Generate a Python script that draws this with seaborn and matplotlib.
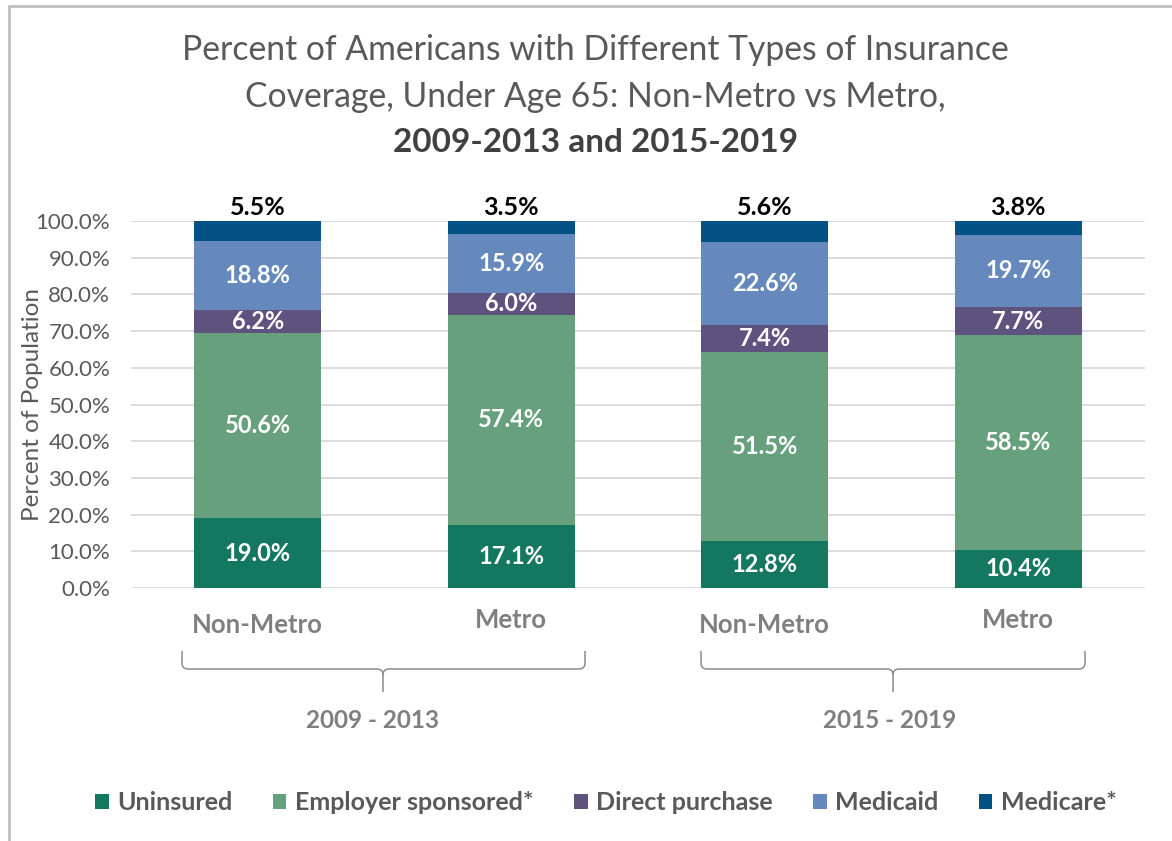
import numpy as np
import pandas as pd
import matplotlib
matplotlib.use('Agg')
import matplotlib.pyplot as plt
from matplotlib.patches import Patch, PathPatch
from matplotlib.path import Path
from matplotlib.lines import Line2D
import seaborn as sns

# data
bar_ids = ['NM 2009-2013', 'M 2009-2013', 'NM 2015-2019', 'M 2015-2019']
area_labels = ['Non-Metro', 'Metro', 'Non-Metro', 'Metro']
period_labels = ['2009 - 2013', '2015 - 2019']
series = ['Uninsured', 'Employer sponsored*', 'Direct purchase', 'Medicaid', 'Medicare*']
uninsured = [19.0, 17.1, 12.8, 10.4]
employer = [50.6, 57.4, 51.5, 58.5]
direct = [6.2, 6.0, 7.4, 7.7]
medicaid = [18.8, 15.9, 22.6, 19.7]
medicare = [5.5, 3.5, 5.6, 3.8]
colors = ['#14775F', '#67A07D', '#5E527F', '#6589BD', '#035286']

sns.set_style('white')
plt.rcParams['font.family'] = ['Lato', 'DejaVu Sans']

values = np.array([uninsured, employer, direct, medicaid, medicare])
cum = values.cumsum(axis=0)
df = pd.DataFrame({'bar': bar_ids})

fig = plt.figure(figsize=(11.72, 8.41), dpi=100)
ax = fig.add_axes([131 / 1172, 1 - 588 / 841, 1014 / 1172, 367 / 841])

# stacked bars: draw the cumulative totals top layer first
for k in range(len(series) - 1, -1, -1):
    df['top'] = cum[k]
    sns.barplot(data=df, x='bar', y='top', color=colors[k], width=0.5,
                saturation=1, linewidth=0, ax=ax, zorder=3)

ax.set_ylim(0, 100)
ax.set_xlim(-0.5, 3.5)
ax.set_yticks(np.arange(0, 101, 10))
ax.set_yticklabels(['%.1f%%' % v for v in np.arange(0, 101, 10)],
                   fontsize=16, color='#595959')
ax.tick_params(axis='y', length=0, pad=15)
ax.set_xticks([])
ax.set_xlabel('')
ax.set_ylabel('Percent of Population', fontsize=17.5, color='#595959')
ax.yaxis.set_label_coords(-0.087, 0.5)
ax.grid(axis='y', color='#d9d9d9', linewidth=1.3, zorder=0)
for s in ax.spines.values():
    s.set_visible(False)

# segment labels
for i in range(4):
    for k in range(4):
        mid = cum[k, i] - values[k, i] / 2
        ax.text(i, mid, '%.1f%%' % values[k, i], ha='center', va='center',
                color='white', fontsize=17, fontweight='bold', zorder=5)
    ax.text(i, 100.6, '%.1f%%' % medicare[i], ha='center', va='bottom',
            color='black', fontsize=18, fontweight='bold', clip_on=False)

# category labels (Excel multi-level axis)
trans = ax.get_xaxis_transform()
for i, lab in enumerate(area_labels):
    yoff = -0.10 if lab == 'Non-Metro' else -0.088
    ax.text(i, yoff, lab, transform=trans, ha='center', va='center',
            fontsize=18.5, fontweight='bold', color='#7f7f7f', clip_on=False)

# group braces in figure pixels
def px(x, y):
    return (x / 1172, 1 - y / 841)

def brace(x0, x1, xc, y_top=651, y_mid=669, y_bot=692):
    r = 6
    verts = [px(x0, y_top), px(x0, y_mid - r), px(x0, y_mid), px(x0 + r, y_mid),
             px(xc - r, y_mid), px(xc, y_mid), px(xc, y_mid + r), px(xc, y_bot)]
    codes = [Path.MOVETO, Path.LINETO, Path.CURVE3, Path.CURVE3,
             Path.LINETO, Path.CURVE3, Path.CURVE3, Path.LINETO]
    verts2 = [px(x1, y_top), px(x1, y_mid - r), px(x1, y_mid), px(x1 - r, y_mid),
              px(xc + r, y_mid), px(xc, y_mid), px(xc, y_mid + r)]
    codes2 = [Path.MOVETO, Path.LINETO, Path.CURVE3, Path.CURVE3,
              Path.LINETO, Path.CURVE3, Path.CURVE3]
    for v, c in [(verts, codes), (verts2, codes2)]:
        fig.add_artist(PathPatch(Path(v, c), transform=fig.transFigure,
                                 fill=False, edgecolor='#8c8c8c', linewidth=1.1))

brace(182, 585, 383)
brace(701, 1085, 893)
for xc, lab in zip([372, 890], period_labels):
    fig.text(*px(xc, 720), lab, ha='center', va='center', fontsize=17.5,
             fontweight='bold', color='#7f7f7f')

# title
fig.text(*px(595, 50), 'Percent of Americans with Different Types of Insurance',
         ha='center', va='center', fontsize=24.3, color='#595959')
fig.text(*px(595, 97), 'Coverage, Under Age 65: Non-Metro vs Metro,',
         ha='center', va='center', fontsize=24.3, color='#595959')
fig.text(*px(596, 142), '2009-2013 and 2015-2019',
         ha='center', va='center', fontsize=24, color='#404040', fontweight='bold')

# legend
handles = [Patch(facecolor=c, edgecolor='none') for c in colors]
leg = fig.legend(handles, series, loc='center', bbox_to_anchor=px(606, 803), ncol=5,
                 frameon=False, handlelength=0.55, handleheight=0.55, handletextpad=0.35,
                 columnspacing=1.6, prop={'size': 18, 'weight': 'bold'})
for t in leg.get_texts():
    t.set_color('#595959')

# chart frame (top and left edges)
fig.add_artist(Line2D([9 / 1172, 9 / 1172, 1], [0, 1 - 6 / 841, 1 - 6 / 841],
                      transform=fig.transFigure, color='#bfbfbf', linewidth=2))

fig.savefig('out.png', dpi=100)
